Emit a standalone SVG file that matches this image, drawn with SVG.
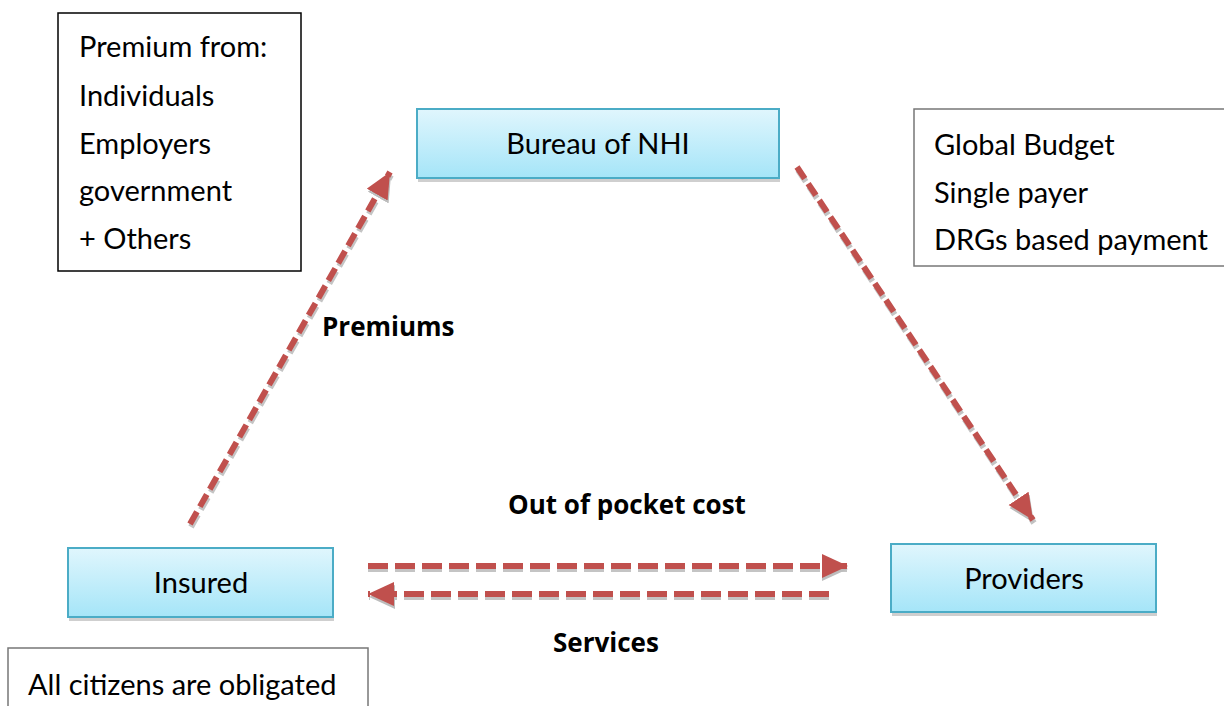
<svg xmlns="http://www.w3.org/2000/svg" width="1224" height="706" viewBox="0 0 1224 706">
<defs>
<linearGradient id="bg" x1="0" y1="0" x2="0" y2="1">
<stop offset="0" stop-color="#e0f6fd"/>
<stop offset="1" stop-color="#a5e5f8"/>
</linearGradient>
<marker id="ah" markerUnits="userSpaceOnUse" markerWidth="28" markerHeight="26" refX="26" refY="12" orient="auto">
<path d="M0,0 L26,12 L0,24 Z" fill="#c0504d"/>
</marker>
<marker id="ahs" markerUnits="userSpaceOnUse" markerWidth="28" markerHeight="26" refX="26" refY="12" orient="auto">
<path d="M0,0 L26,12 L0,24 Z" fill="#bdbdbd"/>
</marker>
</defs>
<style>
.node{fill:url(#bg);stroke:#4bacc6;stroke-width:2}
.shadow{fill:#cfcfcf}
.tb{fill:#fff;stroke:#000;stroke-width:1.5}
.tbg{fill:#fff;stroke:#777;stroke-width:1.5}
.t{font-family:Lato,"Open Sans","Liberation Sans",sans-serif;font-size:29px;fill:#000}
.b{font-family:"Open Sans","Liberation Sans",sans-serif;font-size:26px;font-weight:bold;fill:#000}
.c{stroke:#c0504d;stroke-width:6;fill:none}
.cs{stroke:#c4c4c4;stroke-width:6;fill:none}
</style>
<g id="premium-box">
<rect class="tb" x="58" y="13" width="243" height="258"/>
<text class="t" x="79" y="57">Premium from:</text>
<text class="t" x="79" y="106">Individuals</text>
<text class="t" x="79" y="154">Employers</text>
<text class="t" x="79" y="201">government</text>
<text class="t" x="79" y="249">+ Others</text>
</g>
<g id="payment-box">
<rect class="tbg" x="914" y="109" width="320" height="157"/>
<text class="t" x="934" y="155">Global Budget</text>
<text class="t" x="934" y="203">Single payer</text>
<text class="t" x="934" y="250">DRGs based payment</text>
</g>
<g id="citizens-box">
<rect class="tbg" x="8" y="648" width="360" height="70"/>
<text class="t" x="28" y="695">All citizens are obligated</text>
</g>
<g id="bureau">
<rect class="shadow" x="418" y="178" width="362" height="4"/>
<rect class="node" x="417" y="109" width="362" height="69"/>
<text class="t" x="598" y="154" text-anchor="middle">Bureau of NHI</text>
</g>
<g id="insured">
<rect class="shadow" x="69" y="617" width="265" height="4"/>
<rect class="node" x="68" y="548" width="265" height="69"/>
<text class="t" x="201" y="593" text-anchor="middle">Insured</text>
</g>
<g id="providers">
<rect class="shadow" x="892" y="612" width="265" height="4"/>
<rect class="node" x="891" y="544" width="265" height="68"/>
<text class="t" x="1024" y="589" text-anchor="middle">Providers</text>
</g>
<g id="connectors">
<line class="cs" x1="191" y1="527" x2="391" y2="175" stroke-dasharray="14 6" marker-end="url(#ahs)"/>
<line class="c" x1="190" y1="524" x2="390" y2="172" stroke-dasharray="14 6" marker-end="url(#ah)"/>
<line class="cs" x1="798" y1="170" x2="1034" y2="523" stroke-dasharray="14 6" marker-end="url(#ahs)"/>
<line class="c" x1="797" y1="167" x2="1033" y2="520" stroke-dasharray="14 6" marker-end="url(#ah)"/>
<line class="cs" x1="368" y1="569" x2="848" y2="569" stroke-dasharray="20 7" marker-end="url(#ahs)"/>
<line class="c" x1="368" y1="566" x2="848" y2="566" stroke-dasharray="20 7" marker-end="url(#ah)"/>
<line class="cs" x1="829" y1="597" x2="369" y2="597" stroke-dasharray="20 7" marker-end="url(#ahs)"/>
<line class="c" x1="829" y1="594" x2="368" y2="594" stroke-dasharray="20 7" marker-end="url(#ah)"/>
<text class="b" x="322" y="336">Premiums</text>
<text class="b" x="508" y="514">Out of pocket cost</text>
<text class="b" x="553" y="652">Services</text>
</g>
</svg>
